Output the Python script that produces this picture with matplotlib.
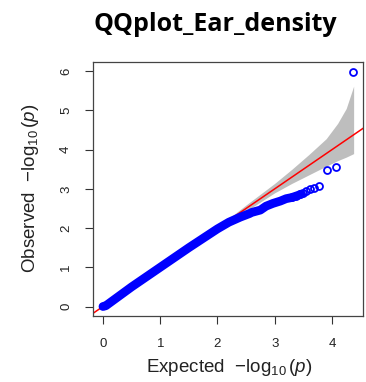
import numpy as np
import matplotlib
matplotlib.use("Agg")
import matplotlib.pyplot as plt

plt.rcParams['font.family'] = ['Liberation Sans', 'DejaVu Sans']
plt.rcParams['mathtext.fontset'] = 'custom'
plt.rcParams['mathtext.rm'] = 'Liberation Sans'
plt.rcParams['mathtext.it'] = 'Liberation Sans:italic'

# dense part of the qq curve (expected, observed)
dense_x = [0.0, 0.05, 0.5, 1.0, 1.5, 2.0, 2.2, 2.4, 2.56, 2.6, 2.75, 2.85, 2.97, 3.1, 3.2, 3.3, 3.4, 3.47]
dense_y = [0.0, 0.02, 0.5, 1.0, 1.5, 1.98, 2.15, 2.28, 2.37, 2.40, 2.46, 2.56, 2.63, 2.69, 2.75, 2.78, 2.83, 2.87]

# sparse top points
tail_x = [3.3, 3.38, 3.44, 3.49, 3.54, 3.61, 3.68, 3.78, 3.91, 4.07, 4.37]
tail_y = [2.79, 2.82, 2.86, 2.9, 2.94, 2.99, 3.02, 3.07, 3.48, 3.56, 5.99]

# 90% confidence band
band_x = [1.9, 2.2, 2.5, 3.0, 3.3, 3.6, 3.9, 4.1, 4.25, 4.38]
band_hi = [1.92, 2.25, 2.59, 3.14, 3.5, 3.88, 4.28, 4.67, 5.05, 5.62]
band_lo = [1.88, 2.16, 2.43, 2.9, 3.14, 3.36, 3.58, 3.72, 3.81, 3.90]

fig = plt.figure(figsize=(3.66, 3.82), dpi=100)
ax = fig.add_axes([0.254, 0.173, 0.738, 0.665])

ax.fill_between(band_x, band_lo, band_hi, color='#bebebe', linewidth=0, zorder=1)
ax.axline((0, 0), slope=1, color='red', linewidth=1.1, zorder=2)
ax.plot(dense_x, dense_y, color='blue', linewidth=6.3, solid_capstyle='round',
        solid_joinstyle='round', zorder=3)
ax.plot(tail_x, tail_y, linestyle='none', marker='o', markersize=5,
        markerfacecolor='none', markeredgecolor='blue', markeredgewidth=1.3, zorder=4)

ax.set_xlim(-0.175, 4.545)
ax.set_ylim(-0.24, 6.24)
ax.set_xticks([0, 1, 2, 3, 4])
ax.set_yticks([0, 1, 2, 3, 4, 5, 6])
ax.tick_params(direction='out', length=6, width=0.8, color='#333333',
               labelsize=9.5, labelcolor='#222222')
ax.tick_params(axis='x', pad=10)
ax.tick_params(axis='y', pad=9)
for lab in ax.get_yticklabels():
    lab.set_rotation(90)
    lab.set_va('center')
for s in ax.spines.values():
    s.set_linewidth(0.9)
    s.set_color('#444444')

ax.set_xlabel(r'Expected  $-\log_{10}(p)$', fontsize=13.5, color='#222222')
ax.set_ylabel(r'Observed  $-\log_{10}(p)$', fontsize=13.5, color='#222222')
ax.xaxis.set_label_coords(0.504, -0.205)
ax.xaxis.label.set_va('center')
ax.yaxis.set_label_coords(-0.23, 0.504)
ax.yaxis.label.set_va('center')

fig.text(0.587, 0.937, 'QQplot_Ear_density', ha='center', va='center',
         fontsize=18, fontweight='bold', family=['Open Sans', 'DejaVu Sans'])

fig.savefig('out.png', dpi=100)
